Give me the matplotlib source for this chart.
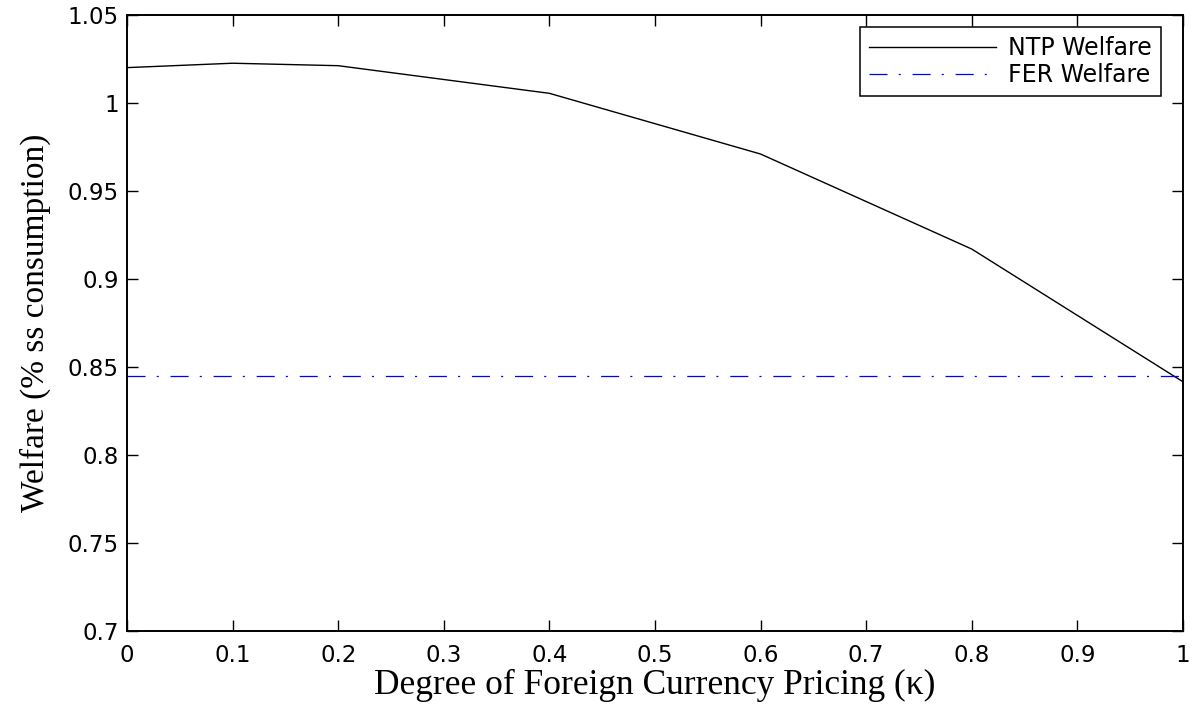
import numpy as np
import matplotlib
matplotlib.use("Agg")
import matplotlib.pyplot as plt

kappa = [0.0, 0.1, 0.2, 0.4, 0.6, 0.8, 1.0]
ntp_welfare = [1.0201, 1.0226, 1.0212, 1.0055, 0.9710, 0.9170, 0.8416]
fer_welfare = 0.8451

xtick_vals = np.arange(0, 1.01, 0.1)
xtick_labels = ['0', '0.1', '0.2', '0.3', '0.4', '0.5', '0.6', '0.7', '0.8', '0.9', '1']
ytick_vals = np.arange(0.7, 1.051, 0.05)
ytick_labels = ['0.7', '0.75', '0.8', '0.85', '0.9', '0.95', '1', '1.05']

plt.rcParams['lines.scale_dashes'] = False

W, H = 1193, 704
fig = plt.figure(figsize=(W/100, H/100), dpi=100)
ax = fig.add_axes([127/W, 1-631/H, (1183-127)/W, (631-15)/H])

ax.plot(kappa, ntp_welfare, color='black', lw=1.0, label='NTP Welfare')
ax.plot([0, 1], [fer_welfare, fer_welfare], color='blue', lw=0.9,
        dashes=(13, 8, 1.5, 8.5), label='FER Welfare')

ax.set_xlim(0, 1)
ax.set_ylim(0.7, 1.05)
ax.set_xticks(xtick_vals)
ax.set_yticks(ytick_vals)
ax.set_xticklabels(xtick_labels)
ax.set_yticklabels(ytick_labels)
ax.tick_params(direction='in', top=True, right=True, length=8, width=1.0,
               labelsize=16.5)
ax.tick_params(axis='x', pad=9)
ax.tick_params(axis='y', pad=6)
for lab in ax.get_xticklabels() + ax.get_yticklabels():
    lab.set_family('DejaVu Sans')
for s in ax.spines.values():
    s.set_linewidth(1.4)

ax.set_xlabel('Degree of Foreign Currency Pricing (\u03ba)', family='Liberation Serif',
              fontsize=25.5, labelpad=2)
ax.set_ylabel('Welfare (% ss consumption)', family='Liberation Serif',
              fontsize=24, labelpad=12)

leg = ax.legend(loc='upper right', bbox_to_anchor=(1161/W, 1-27/H),
                bbox_transform=fig.transFigure, borderaxespad=0,
                prop={'family': 'DejaVu Sans', 'size': 17},
                fancybox=False, framealpha=1, edgecolor='black', handlelength=5.4,
                labelspacing=0.12, borderpad=0.38, handletextpad=0.5)
leg.get_frame().set_linewidth(1.1)

fig.savefig('out.png', dpi=100)
